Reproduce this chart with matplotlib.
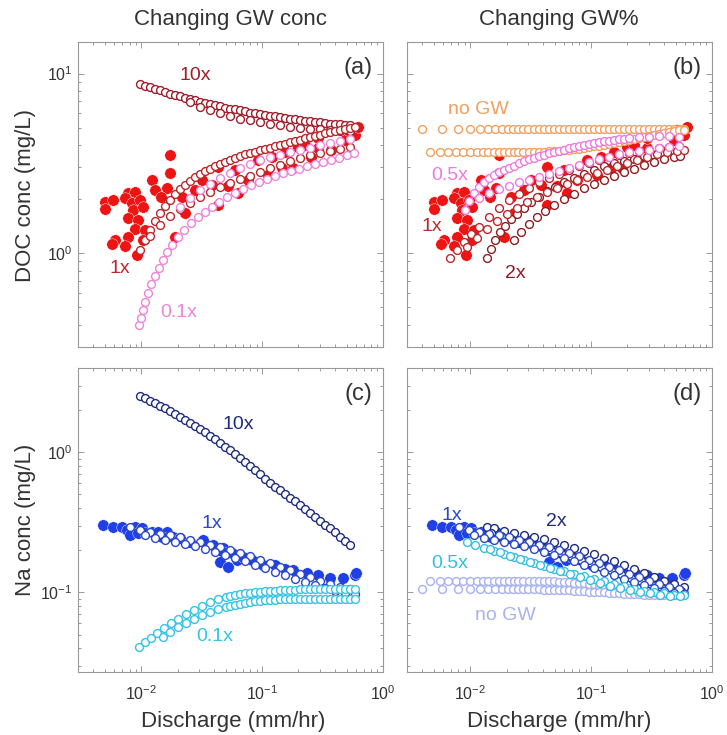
import numpy as np
import matplotlib
matplotlib.use("Agg")
import matplotlib.pyplot as plt
from matplotlib.ticker import LogLocator, NullFormatter

plt.rcParams["font.family"] = ["Liberation Sans", "DejaVu Sans"]
plt.rcParams["mathtext.fontset"] = "custom"
plt.rcParams["mathtext.rm"] = "Liberation Sans"
plt.rcParams["mathtext.it"] = "Liberation Sans:italic"
plt.rcParams["mathtext.bf"] = "Liberation Sans:bold"

# ---------------- discharge of the model runs (mm/hr) ----------------
Q = [0.00343, 0.00377, 0.00415, 0.00456, 0.00502, 0.00552, 0.00607, 0.00667, 0.00734, 0.00807,
     0.00887, 0.00976, 0.0107, 0.0118, 0.0130, 0.0143, 0.0157, 0.0173, 0.0190, 0.0209,
     0.0230, 0.0253, 0.0278, 0.0306, 0.0336, 0.0370, 0.0407, 0.0447, 0.0492, 0.0541,
     0.0595, 0.0654, 0.0719, 0.0791, 0.0870, 0.0957, 0.105, 0.116, 0.127, 0.140,
     0.154, 0.169, 0.186, 0.205, 0.225, 0.248, 0.272, 0.300, 0.330, 0.362,
     0.399, 0.438, 0.482, 0.530, 0.583]

ng_q1 = [0.00397, 0.00580, 0.00796, 0.00995, 0.0120, 0.0141, 0.0160, 0.0182, 0.0206, 0.0227,
         0.0249, 0.0274, 0.0302] + Q[24:]
ng_q2 = [0.00465, 0.00562, 0.00658, 0.00762, 0.00876, 0.00995, 0.0113, 0.0127, 0.0141, 0.0157,
         0.0174, 0.0191, 0.0210, 0.0230, 0.0251, 0.0274] + Q[23:]

# ---------------- observed stream chemistry ----------------
doc_obs_q = [0.00501, 0.00587, 0.00501, 0.00782, 0.00888, 0.00734, 0.00834, 0.00977, 0.00860, 0.0104,
             0.00782, 0.00946, 0.00888, 0.0107, 0.00782, 0.00606, 0.00569, 0.00734, 0.00916, 0.0104,
             0.0122, 0.0130, 0.0173, 0.0173, 0.0162, 0.0147, 0.0216, 0.0230, 0.0190, 0.0433,
             0.0525, 0.0634, 0.0767, 0.112, 0.120, 0.145, 0.181, 0.154, 0.199, 0.256,
             0.290, 0.375, 0.290, 0.483, 0.584, 0.622, 0.0433, 0.0316, 0.0382, 0.0278,
             0.0595, 0.0927, 0.225, 0.514]
doc_obs_c = [1.93, 1.98, 1.77, 2.15, 2.20, 2.02, 1.89, 1.98, 1.74, 1.81,
             1.56, 1.53, 1.37, 1.35, 1.23, 1.18, 1.13, 1.09, 0.976, 1.18,
             2.55, 2.25, 3.52, 2.78, 2.30, 2.06, 2.06, 1.67, 1.23, 1.85,
             2.35, 2.15, 2.55, 2.72, 3.45, 2.97, 2.97, 3.67, 3.92, 3.45,
             3.84, 3.75, 4.37, 4.27, 4.55, 5.06, 3.03, 2.55, 2.39, 2.25,
             2.90, 3.30, 4.0, 4.85]

na_obs_q = [0.00486, 0.00588, 0.00689, 0.00758, 0.00888, 0.01008, 0.00807, 0.00946, 0.01075, 0.0122,
            0.0138, 0.0162, 0.0148, 0.0184, 0.0209, 0.0253, 0.0326, 0.0394, 0.0477, 0.0477,
            0.0559, 0.0615, 0.0448, 0.0525, 0.0698, 0.0818, 0.102, 0.1275, 0.154, 0.181,
            0.233, 0.291, 0.363, 0.468, 0.584, 0.603]
na_obs_c = [0.302, 0.294, 0.294, 0.2785, 0.294, 0.286, 0.256, 0.264, 0.264, 0.271,
            0.271, 0.271, 0.2495, 0.2495, 0.243, 0.230, 0.236, 0.218, 0.206, 0.195,
            0.190, 0.170, 0.165, 0.152, 0.180, 0.170, 0.157, 0.157, 0.148, 0.144,
            0.1365, 0.133, 0.126, 0.126, 0.133, 0.1365]

# ---------------- (a) DOC, changing GW concentration ----------------
doc10_hi_q = Q[11:55]
doc10_hi = [8.71, 8.54, 8.37, 8.21, 8.05, 7.89, 7.74, 7.60, 7.46, 7.34, 7.22, 7.10, 6.99, 6.88, 6.77,
            6.66, 6.56, 6.47, 6.39, 6.31, 6.23, 6.15, 6.07, 6.01, 5.96, 5.90, 5.84, 5.78, 5.73, 5.67,
            5.62, 5.56, 5.51, 5.46, 5.41, 5.37, 5.34, 5.30, 5.27, 5.24, 5.21, 5.17, 5.14, 5.05]
doc10_lo_q = Q[21:54:2]
doc10_lo = [6.95, 6.55, 6.25, 6.0, 5.8, 5.62, 5.48, 5.35, 5.24, 5.15, 5.07, 5.0, 4.94, 4.89, 4.84,
            4.80, 4.76]

doc1_hi_q = Q[11:55]
doc1_hi = [1.040, 1.183, 1.345, 1.510, 1.673, 1.829, 1.976, 2.134, 2.276, 2.395, 2.521, 2.654,
           2.758, 2.867, 2.960, 3.057, 3.136, 3.218, 3.302, 3.388, 3.475, 3.543, 3.612, 3.681,
           3.753, 3.825, 3.875, 3.950, 4.002, 4.079, 4.159, 4.213, 4.267, 4.350, 4.434, 4.491,
           4.549, 4.638, 4.727, 4.788, 4.850, 4.944, 5.008, 5.041]
doc1_lo_q = Q[13:54:2]
doc1_lo = [1.245, 1.434, 1.609, 1.760, 1.901, 2.053, 2.190, 2.334, 2.458, 2.587, 2.706, 2.830,
           2.979, 3.116, 3.259, 3.388, 3.498, 3.612, 3.706, 3.802, 3.901]

doc01_lo_q = [0.00957, 0.00994, 0.01033, 0.01073, 0.01136, 0.01203, 0.01298, 0.01401, 0.01512,
              0.01632, 0.01795, 0.02011, 0.02254, 0.02576, 0.02943, 0.03362, 0.03841, 0.04388,
              0.05109, 0.05950, 0.06928, 0.08067, 0.09395, 0.1094, 0.1274, 0.1483, 0.1727,
              0.2011, 0.2342, 0.2727, 0.3176, 0.3698, 0.4306, 0.5014, 0.5728]
doc01_lo = [0.397, 0.435, 0.482, 0.534, 0.599, 0.673, 0.745, 0.826, 0.915, 1.014, 1.110, 1.229,
            1.345, 1.472, 1.589, 1.694, 1.806, 1.926, 2.041, 2.162, 2.276, 2.395, 2.489, 2.587,
            2.689, 2.777, 2.867, 2.960, 3.057, 3.136, 3.218, 3.302, 3.388, 3.498, 3.612]
doc01_hi_q = Q[19:54:2]
doc01_hi = [1.806, 2.027, 2.246, 2.442, 2.637, 2.812, 2.979, 3.136, 3.281, 3.409, 3.520, 3.635,
            3.753, 3.875, 4.002, 4.105, 4.213, 4.322]

# ---------------- (b) DOC, changing GW fraction ----------------
docng_hi = [4.9, 4.9, 4.9, 4.9, 4.9, 4.9, 4.9, 4.9, 4.9, 4.9, 4.9,
            4.9, 4.9, 4.9, 4.9, 4.9, 4.9, 4.9, 4.9, 4.9, 4.9, 4.9,
            4.9, 4.9, 4.9, 4.9, 4.9, 4.9, 4.9, 4.9, 4.9, 4.9, 4.9,
            4.9, 4.9, 4.9, 4.9, 4.9, 4.9, 4.9, 4.9, 4.9, 4.9, 4.9]
docng_lo = [3.67, 3.67, 3.67, 3.67, 3.67, 3.67, 3.67, 3.67, 3.67, 3.67, 3.67, 3.67, 3.67, 3.67,
            3.67, 3.67,
            3.67, 3.67, 3.67, 3.68, 3.69, 3.70, 3.72, 3.74, 3.76, 3.79, 3.82, 3.85, 3.89, 3.93,
            3.97, 4.01, 4.06, 4.10, 4.15, 4.20, 4.25, 4.30, 4.35, 4.41, 4.47, 4.53, 4.59, 4.65,
            4.71, 4.77, 4.83, 4.88]

doc05_hi_q = [0.00904] + Q[11:44] + Q[45:54:2]
doc05_hi = [1.738, 1.951, 2.162, 2.334, 2.489, 2.621, 2.723, 2.830, 2.922, 2.998, 3.076, 3.157,
            3.239, 3.324, 3.388, 3.453, 3.520, 3.589, 3.658, 3.719, 3.777, 3.835, 3.890, 3.950,
            4.002, 4.054, 4.106, 4.148, 4.192, 4.234, 4.272, 4.311, 4.345, 4.378, 4.423, 4.446,
            4.464, 4.464, 4.434]
doc05_lo_q = Q[13:54:2]
doc05_lo = [2.027, 2.162, 2.276, 2.380, 2.474, 2.554, 2.654, 2.758, 2.867, 2.979, 3.096, 3.218,
            3.324, 3.431, 3.543, 3.635, 3.706, 3.777, 3.850, 3.901, 3.926]

docb1_hi_q = [0.00680, 0.00777, 0.00887, 0.01014] + Q[13:54:2]
docb1_hi = [0.935, 1.040, 1.153, 1.278, 1.406, 1.589, 1.784, 1.976, 2.148, 2.320, 2.489, 2.637,
            2.776, 2.922, 3.057, 3.177, 3.302, 3.409, 3.520, 3.612, 3.706, 3.777, 3.850, 3.901,
            3.926]
docb1_lo_q = [0.00939, 0.01136, 0.01374, 0.01662, 0.02011, 0.02432, 0.02943, 0.03560, 0.04306,
              0.05209, 0.06300, 0.07621, 0.09219, 0.1115, 0.1349, 0.1632, 0.1973, 0.2387, 0.2888,
              0.3493, 0.4225, 0.5110, 0.583]
docb1_lo = [1.081, 1.214, 1.362, 1.510, 1.651, 1.795, 1.926, 2.053, 2.190, 2.306, 2.427, 2.554,
            2.671, 2.794, 2.922, 3.057, 3.177, 3.302, 3.431, 3.543, 3.635, 3.706, 3.730]

doc2_hi_q = [0.01374, 0.01483, 0.01600, 0.01760, 0.01936, 0.02171, 0.02432, 0.02780, 0.03176,
             0.0370, 0.04306, 0.05013, 0.0595, 0.0719, 0.0870, 0.105, 0.127, 0.154, 0.186, 0.225,
             0.272, 0.330, 0.399, 0.482, 0.548]
doc2_hi = [0.939, 1.061, 1.184, 1.303, 1.425, 1.549, 1.662, 1.795, 1.926, 2.067, 2.204, 2.334,
           2.474, 2.621, 2.758, 2.904, 3.038, 3.157, 3.259, 3.365, 3.453, 3.520, 3.566, 3.612, 3.658]
doc2_lo_q = [0.0230, 0.02625, 0.0306, 0.0356, 0.04145, 0.0492, 0.0595, 0.0719, 0.0870, 0.105,
             0.127, 0.154, 0.186, 0.225, 0.272, 0.330, 0.399, 0.482, 0.548]
doc2_lo = [1.183, 1.311, 1.453, 1.589, 1.716, 1.854, 2.002, 2.148, 2.291, 2.427, 2.570, 2.706,
           2.830, 2.960, 3.096, 3.218, 3.324, 3.409, 3.474]

# ---------------- (c) Na, changing GW concentration ----------------
na10_q = Q[11:54]
na10 = [2.545, 2.442, 2.344, 2.249, 2.159, 2.072, 1.972, 1.877, 1.786, 1.701, 1.619, 1.541,
        1.467, 1.396, 1.307, 1.244, 1.165, 1.100, 1.038, 0.972, 0.910, 0.852, 0.798, 0.747,
        0.700, 0.650, 0.603, 0.565, 0.538, 0.504, 0.475, 0.449, 0.420, 0.393, 0.368, 0.345,
        0.323, 0.302, 0.288, 0.270, 0.250, 0.232, 0.218]

na1_hi_q = Q[9:54:2]
na1_hi = [0.2926, 0.2809, 0.2717, 0.2630, 0.2553, 0.2482, 0.2382, 0.2286, 0.2195, 0.2106, 0.2004,
          0.1908, 0.1816, 0.1714, 0.1618, 0.1527, 0.1442, 0.1361, 0.1285, 0.1213, 0.1155, 0.1100,
          0.1055]
na1_lo_q = Q[12:55:2]
na1_lo = [0.2565, 0.2462, 0.2362, 0.2286, 0.2213, 0.2141, 0.2038, 0.1940, 0.1846, 0.1757, 0.1673,
          0.1579, 0.1491, 0.1407, 0.1329, 0.1254, 0.1184, 0.1127, 0.1073, 0.1030, 0.0996, 0.0972]

na01_hi_q = [0.00957, 0.0107, 0.01203, 0.01349, 0.01541, 0.01760, 0.02011, 0.02342, 0.02727,
             0.03176, 0.0370, 0.04306, 0.05013] + Q[29:55]
na01_hi = [0.0407, 0.0441, 0.0475, 0.0512, 0.0556, 0.0603, 0.0644, 0.0700, 0.0753, 0.0804, 0.0852,
           0.0895, 0.0933,
           0.0945, 0.0964, 0.0977, 0.0988, 0.0997, 0.1005, 0.1013, 0.1021, 0.1026, 0.1030, 0.1034,
           0.1038, 0.1043, 0.1047, 0.1051, 0.1055, 0.1055, 0.1055, 0.1060, 0.1064, 0.1064, 0.1064,
           0.1064, 0.1064, 0.1060, 0.1055]
na01_lo_q = [0.01512, 0.0173, 0.02011, 0.02342, 0.02727, 0.03176, 0.0370, 0.04306, 0.05013] + Q[29:55]
na01_lo = [0.0479, 0.0520, 0.0565, 0.0608, 0.0650, 0.0688, 0.0723, 0.0760, 0.0791,
           0.0805, 0.0818, 0.0832, 0.0845, 0.0856, 0.0866, 0.0874, 0.0881, 0.0885, 0.0888, 0.0892,
           0.0895, 0.0897, 0.0899, 0.0901, 0.0903, 0.0903, 0.0903, 0.0903, 0.0903, 0.0903, 0.0903,
           0.0903, 0.0903, 0.0903, 0.0903]

# ---------------- (d) Na, changing GW fraction ----------------
nang_hi = [0.121, 0.121, 0.121, 0.121, 0.121, 0.121, 0.121, 0.121, 0.121, 0.121, 0.121, 0.121,
           0.121, 0.121, 0.121, 0.121,
           0.121, 0.121, 0.121, 0.121, 0.1205, 0.120, 0.1195, 0.119, 0.1183, 0.1176, 0.1168,
           0.116, 0.1152, 0.1143, 0.1134, 0.1125, 0.1116, 0.1107, 0.1098, 0.1089, 0.108, 0.1072,
           0.1064, 0.1057, 0.105, 0.1044, 0.1038, 0.1033, 0.1028, 0.1024, 0.102, 0.1017]
nang_lo = [0.105, 0.105, 0.105, 0.105, 0.105, 0.105, 0.105, 0.105, 0.105, 0.105, 0.105, 0.105,
           0.105,
           0.105, 0.105, 0.1048, 0.1046, 0.1043, 0.104, 0.1036, 0.1032, 0.1028, 0.1023, 0.1018,
           0.1013, 0.1008, 0.1003, 0.0998, 0.0993, 0.0988, 0.0983, 0.0979, 0.0975, 0.0971, 0.0968,
           0.0965, 0.0962, 0.096, 0.0958, 0.0956, 0.0955, 0.0954, 0.0953, 0.0952]

na2_hi_q = [0.01374] + Q[16:55:2]
na2_hi = [0.2951, 0.2878, 0.2763, 0.2673, 0.2586, 0.2503, 0.2402, 0.2286, 0.2176, 0.2072, 0.1972,
          0.1877, 0.1772, 0.1673, 0.1566, 0.1466, 0.1373, 0.1285, 0.1213, 0.1146, 0.1091]
na2_lo_q = [0.01483, 0.01795, 0.02171, 0.02625, 0.03176, 0.03841, 0.04646, 0.05620, 0.06798,
            0.08224, 0.09948, 0.1203, 0.1455, 0.1761, 0.2130, 0.2576, 0.3116, 0.3770, 0.4560,
            0.5516]
na2_lo = [0.2651, 0.2523, 0.2402, 0.2305, 0.2213, 0.2123, 0.2021, 0.1924, 0.1816, 0.1714, 0.1618,
          0.1527, 0.1442, 0.1350, 0.1275, 0.1204, 0.1146, 0.1091, 0.1047, 0.1021]

na05_hi_q = [0.00939, 0.01094] + Q[14:55:2]
na05_hi = [0.2286, 0.2195, 0.2089, 0.1972, 0.1877, 0.1786, 0.1701, 0.1618, 0.1540, 0.1479, 0.1419,
           0.1361, 0.1307, 0.1254, 0.1204, 0.1155, 0.1109, 0.1064, 0.1030, 0.1005, 0.0982, 0.0964,
           0.0956]
na05_lo_q = [0.01455, 0.01760, 0.02129, 0.02576, 0.03116, 0.03770, 0.04560, 0.05516, 0.06672,
             0.08067, 0.09759, 0.1181, 0.1428, 0.1727, 0.2089, 0.2527, 0.3056, 0.3698, 0.4473,
             0.5411]
na05_lo = [0.2055, 0.1940, 0.1831, 0.1743, 0.1660, 0.1579, 0.1503, 0.1431, 0.1361, 0.1296, 0.1234,
           0.1174, 0.1118, 0.1073, 0.1038, 0.1005, 0.0982, 0.0964, 0.0948, 0.0940]

# colours
c_doc_obs = "#EE1414"
c_doc10 = "#9E1E2C"
c_doc1 = "#B8282C"
c_doc01 = "#EE84DA"
c_docng = "#F0A060"
c_doc05 = "#F07ADF"
c_doc2 = "#8C1E22"
c_na_obs = "#1F40E6"
c_na10 = "#1E2C7A"
c_na1 = "#2A48C8"
c_na01 = "#33C4E6"
c_na05 = "#33C0E0"
c_nang = "#A8B2F0"
grey = "#999999"
txt = "#333333"


def model(ax, q, c, col, z=3):
    ax.scatter(q, c, s=32, facecolors="white", edgecolors=col, linewidths=1.0, zorder=z)


def obs(ax, q, c, col):
    ax.scatter(q, c, s=68, color=col, edgecolors="white", linewidths=0.3, zorder=2)


def style(ax, ylim, xlab, ylab):
    ax.set_xscale("log")
    ax.set_yscale("log")
    ax.set_xlim(0.003, 1)
    ax.set_ylim(*ylim)
    for sp in ax.spines.values():
        sp.set_color(grey)
        sp.set_linewidth(0.8)
    for axis in (ax.xaxis, ax.yaxis):
        axis.set_major_locator(LogLocator(base=10, numticks=10))
        axis.set_minor_locator(LogLocator(base=10, subs=np.arange(2, 10), numticks=10))
        axis.set_minor_formatter(NullFormatter())
    ax.tick_params(which="both", direction="in", top=True, right=True, colors=grey,
                   labelcolor=txt, labelsize=11.5, width=0.7)
    ax.tick_params(which="major", length=4)
    ax.tick_params(which="minor", length=2)
    ax.tick_params(axis="x", pad=9)
    ax.tick_params(axis="y", pad=4)
    if not xlab:
        ax.tick_params(labelbottom=False)
    if not ylab:
        ax.tick_params(labelleft=False)


fig = plt.figure(figsize=(7.27, 7.35), dpi=100)
ax_a = fig.add_axes([0.1073, 0.5279, 0.4195, 0.4150])
ax_b = fig.add_axes([0.5598, 0.5279, 0.4195, 0.4150])
ax_c = fig.add_axes([0.1073, 0.0857, 0.4195, 0.4136])
ax_d = fig.add_axes([0.5598, 0.0857, 0.4195, 0.4136])

# (a)
obs(ax_a, doc_obs_q, doc_obs_c, c_doc_obs)
model(ax_a, doc10_hi_q, doc10_hi, c_doc10)
model(ax_a, doc10_lo_q, doc10_lo, c_doc10)
model(ax_a, doc1_hi_q, doc1_hi, c_doc1)
model(ax_a, doc1_lo_q, doc1_lo, c_doc1)
model(ax_a, doc01_hi_q, doc01_hi, c_doc01)
model(ax_a, doc01_lo_q, doc01_lo, c_doc01)
ax_a.text(0.0282, 9.8, "10x", color=c_doc10, fontsize=14, ha="center", va="center")
ax_a.text(0.00667, 0.823, "1x", color=c_doc1, fontsize=14, ha="center", va="center")
ax_a.text(0.0205, 0.466, "0.1x", color=c_doc01, fontsize=14, ha="center", va="center")

# (b)
obs(ax_b, doc_obs_q, doc_obs_c, c_doc_obs)
model(ax_b, ng_q1, docng_hi, c_docng)
model(ax_b, ng_q2, docng_lo, c_docng)
model(ax_b, doc2_hi_q, doc2_hi, c_doc2)
model(ax_b, doc2_lo_q, doc2_lo, c_doc2)
model(ax_b, docb1_hi_q, docb1_hi, c_doc1)
model(ax_b, docb1_lo_q, docb1_lo, c_doc1)
model(ax_b, doc05_hi_q, doc05_hi, c_doc05)
model(ax_b, doc05_lo_q, doc05_lo, c_doc05)
ax_b.text(0.01164, 6.27, "no GW", color=c_docng, fontsize=14, ha="center", va="center")
ax_b.text(0.0068, 2.72, "0.5x", color=c_doc05, fontsize=14, ha="center", va="center")
ax_b.text(0.0048, 1.40, "1x", color=c_doc1, fontsize=14, ha="center", va="center")
ax_b.text(0.0234, 0.772, "2x", color=c_doc2, fontsize=14, ha="center", va="center")

# (c)
obs(ax_c, na_obs_q, na_obs_c, c_na_obs)
model(ax_c, na1_hi_q, na1_hi, c_na1)
model(ax_c, na1_lo_q, na1_lo, c_na1)
model(ax_c, na10_q, na10, c_na10)
model(ax_c, na01_hi_q, na01_hi, c_na01)
model(ax_c, na01_lo_q, na01_lo, c_na01)
ax_c.text(0.0634, 1.57, "10x", color=c_na10, fontsize=14, ha="center", va="center")
ax_c.text(0.0382, 0.311, "1x", color=c_na1, fontsize=14, ha="center", va="center")
ax_c.text(0.0407, 0.0488, "0.1x", color=c_na01, fontsize=14, ha="center", va="center")

# (d)
obs(ax_d, na_obs_q, na_obs_c, c_na_obs)
model(ax_d, ng_q2, nang_hi, c_nang)
model(ax_d, ng_q1, nang_lo, c_nang)
model(ax_d, na2_hi_q, na2_hi, c_na10)
model(ax_d, na2_lo_q, na2_lo, c_na10)
model(ax_d, na1_hi_q, na1_hi, c_na1)
model(ax_d, na1_lo_q, na1_lo, c_na1)
model(ax_d, na05_hi_q, na05_hi, c_na05)
model(ax_d, na05_lo_q, na05_lo, c_na05)
ax_d.text(0.00702, 0.356, "1x", color=c_na1, fontsize=14, ha="center", va="center")
ax_d.text(0.0517, 0.319, "2x", color=c_na10, fontsize=14, ha="center", va="center")
ax_d.text(0.0068, 0.161, "0.5x", color=c_na05, fontsize=14, ha="center", va="center")
ax_d.text(0.0194, 0.0689, "no GW", color=c_nang, fontsize=14, ha="center", va="center")

style(ax_a, (0.3, 15), False, True)
style(ax_b, (0.3, 15), False, False)
style(ax_c, (0.027, 4), True, True)
style(ax_d, (0.027, 4), True, False)

for ax, lab in zip([ax_a, ax_b, ax_c, ax_d], ["(a)", "(b)", "(c)", "(d)"]):
    ax.text(0.965, 0.915, lab, transform=ax.transAxes, ha="right", va="center",
            fontsize=17, color=txt)

fig.text(230 / 727, 1 - 20 / 735, "Changing GW conc", ha="center", va="center", fontsize=16, color=txt)
fig.text(559 / 727, 1 - 20 / 735, "Changing GW%", ha="center", va="center", fontsize=16, color=txt)
fig.text(26 / 727, 1 - 195 / 735, "DOC conc (mg/L)", rotation=90, ha="center", va="center",
         fontsize=16, color=txt)
fig.text(26 / 727, 1 - 520 / 735, "Na conc (mg/L)", rotation=90, ha="center", va="center",
         fontsize=16, color=txt)
fig.text(233 / 727, 1 - 722 / 735, "Discharge (mm/hr)", ha="center", va="center", fontsize=16, color=txt)
fig.text(559 / 727, 1 - 722 / 735, "Discharge (mm/hr)", ha="center", va="center", fontsize=16, color=txt)

fig.savefig("out.png", dpi=100)
